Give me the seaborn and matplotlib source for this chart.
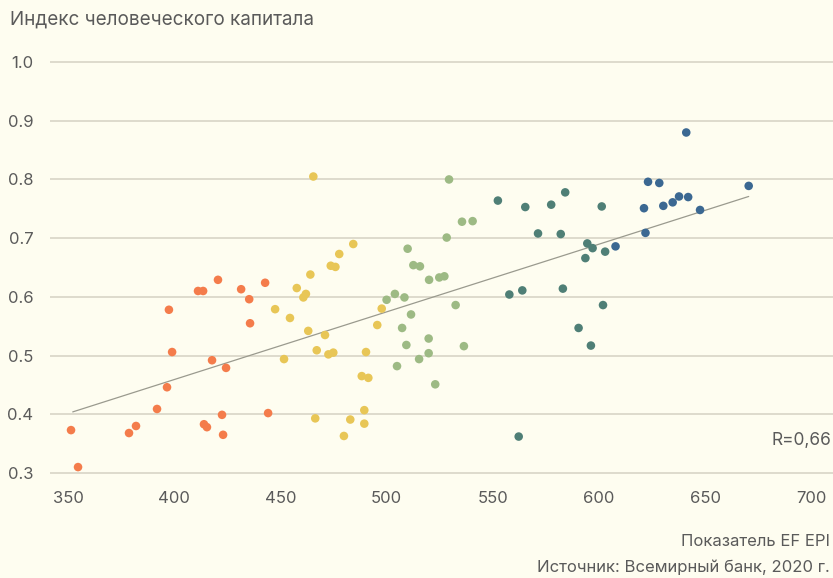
import numpy as np
import pandas as pd
import matplotlib
matplotlib.use('Agg')
import matplotlib.pyplot as plt
import seaborn as sns

# Data
orange_x = [351.4, 354.7, 378.7, 382.0, 391.9, 396.6, 397.5, 399.0, 411.2, 413.6, 414.0,
            415.4, 417.8, 420.6, 422.5, 423.0, 424.4, 431.5, 435.3, 435.7, 442.8, 444.2]
orange_y = [0.373, 0.310, 0.368, 0.380, 0.409, 0.446, 0.578, 0.506, 0.610, 0.610, 0.383,
            0.378, 0.492, 0.629, 0.399, 0.365, 0.479, 0.613, 0.596, 0.555, 0.624, 0.402]

yellow_x = [447.5, 451.7, 454.5, 457.7, 460.8, 462.0, 463.1, 464.1, 465.5, 466.4, 467.1,
            471.0, 472.6, 474.9, 473.7, 475.9, 477.7, 479.9, 482.9, 484.3, 488.3, 489.5,
            489.5, 490.3, 491.4, 495.6, 497.7]
yellow_y = [0.579, 0.494, 0.564, 0.615, 0.599, 0.605, 0.542, 0.638, 0.805, 0.393, 0.509,
            0.535, 0.502, 0.505, 0.653, 0.651, 0.673, 0.363, 0.391, 0.690, 0.465, 0.407,
            0.384, 0.506, 0.462, 0.552, 0.580]

green_x = [500.0, 503.9, 504.9, 507.3, 508.4, 509.3, 509.9, 511.5, 512.6, 515.3, 515.7,
           519.8, 519.8, 520.0, 522.9, 524.8, 527.2, 528.3, 529.4, 532.5, 535.5, 536.4, 540.5]
green_y = [0.595, 0.605, 0.482, 0.547, 0.599, 0.518, 0.682, 0.570, 0.654, 0.494, 0.652,
           0.529, 0.504, 0.629, 0.451, 0.633, 0.635, 0.701, 0.800, 0.586, 0.728, 0.516, 0.729]

teal_x = [552.4, 557.8, 562.2, 563.9, 565.3, 571.3, 577.5, 582.0, 583.0, 584.1, 590.4,
          593.6, 594.5, 596.2, 597.0, 601.3, 601.9, 602.9]
teal_y = [0.764, 0.604, 0.362, 0.611, 0.753, 0.708, 0.757, 0.707, 0.614, 0.778, 0.547,
          0.666, 0.691, 0.517, 0.683, 0.754, 0.586, 0.677]

blue_x = [607.8, 621.2, 621.9, 623.1, 628.4, 630.3, 634.7, 637.7, 641.1, 642.0, 647.6, 670.5]
blue_y = [0.686, 0.751, 0.709, 0.796, 0.794, 0.755, 0.761, 0.771, 0.880, 0.770, 0.748, 0.789]

# trend line as drawn in the source (end points)
trend_x = [352.2, 670.5]
trend_y = [0.404, 0.771]

groups = ['g1', 'g2', 'g3', 'g4', 'g5']
colors = ['#f47c4b', '#e8c656', '#9dba84', '#4f7f76', '#3b6892']

all_x = [orange_x, yellow_x, green_x, teal_x, blue_x]
all_y = [orange_y, yellow_y, green_y, teal_y, blue_y]
df = pd.concat([pd.DataFrame({'epi': xs, 'hci': ys, 'group': g})
                for xs, ys, g in zip(all_x, all_y, groups)], ignore_index=True)

bg = '#fefdf0'
txt = '#5a5a5a'
sns.set_style('white')
plt.rcParams['font.family'] = ['Inter', 'DejaVu Sans']

fig = plt.figure(figsize=(8.33, 5.78), dpi=100, facecolor=bg)
ax = fig.add_axes([50 / 833, 1 - 480 / 578, 783 / 833, 425 / 578])
ax.set_facecolor(bg)

# gridlines
for yv in np.arange(0.3, 1.01, 0.1):
    ax.axhline(yv, color='#d8d5c7', lw=1.2, zorder=0)

sns.lineplot(x=trend_x, y=trend_y, color='#9a9a8e', lw=0.9, ax=ax, zorder=1)
sns.scatterplot(data=df, x='epi', y='hci', hue='group', palette=colors,
                s=38, edgecolor='none', legend=False, ax=ax, zorder=3)

ax.set_xlim(341.5, 710.2)
ax.set_ylim(0.288, 1.012)
ax.set_xticks([350, 400, 450, 500, 550, 600, 650, 700])
ax.set_yticks([0.3, 0.4, 0.5, 0.6, 0.7, 0.8, 0.9, 1.0])
ax.set_yticklabels(['0.3', '0.4', '0.5', '0.6', '0.7', '0.8', '0.9', '1.0'])
ax.tick_params(axis='both', length=0, labelsize=12, labelcolor=txt)
ax.tick_params(axis='y', pad=12)
ax.tick_params(axis='x', pad=8)
ax.set_xlabel('')
ax.set_ylabel('')
sns.despine(ax=ax, left=True, bottom=True)

fig.text(10 / 833, 1 - 20 / 578, 'Индекс человеческого капитала', fontsize=13.6,
         color=txt, va='center', ha='left')
fig.text(831 / 833, 1 - 441 / 578, 'R=0,66', fontsize=12.5, color=txt,
         va='center', ha='right')
fig.text(830 / 833, 1 - 541 / 578, 'Показатель EF EPI', fontsize=12,
         color=txt, va='center', ha='right')
fig.text(830 / 833, 1 - 567 / 578, 'Источник: Всемирный банк, 2020 г.', fontsize=12,
         color=txt, va='center', ha='right')

fig.savefig('out.png', dpi=100, facecolor=bg)
